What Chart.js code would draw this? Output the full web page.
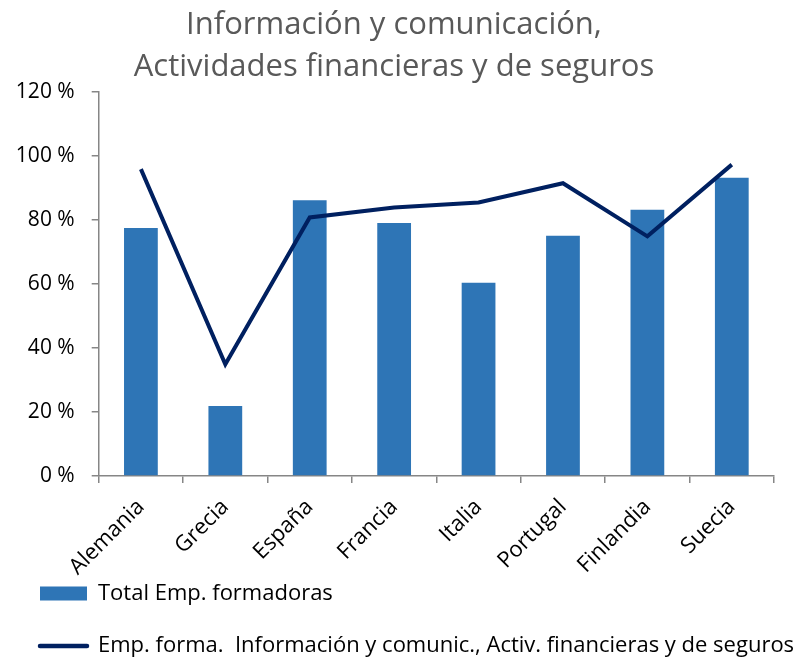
<!doctype html>
<html>
  <head>
    <meta charset="UTF-8">
    <title>Información y comunicación</title>
    <script src="https://cdn.jsdelivr.net/npm/chart.js@4/dist/chart.umd.min.js"></script>
    <style>
      body {
        margin: 0;
        background: #fff;
      }
      #wrap {
        width: 797px;
        height: 659px;
      }
    </style>
  </head>
  <body>
    <div id="wrap">
      <canvas id="chart" width="797" height="659"></canvas>
    </div>
    <script>
      // datos
      var paises = ['Alemania', 'Grecia', 'España', 'Francia', 'Italia', 'Portugal', 'Finlandia', 'Suecia']
      var totalFormadoras = [77.5, 21.9, 86.2, 79.1, 60.4, 75.1, 83.2, 93.2]
      var infoFinancieras = [95.9, 34.9, 80.8, 83.9, 85.5, 91.5, 74.9, 97.3]
      var yTicks = [0, 20, 40, 60, 80, 100, 120]
      var tituloLineas = ['Información y comunicación,', 'Actividades financieras y de seguros']
      var etiquetaBarras = 'Total Emp. formadoras'
      var etiquetaLinea = 'Emp. forma.  Información y comunic., Activ. financieras y de seguros'

      var fuente = "'Open Sans', sans-serif"
      var azul = 'rgb(46, 117, 182)'
      var marino = 'rgb(0, 32, 96)'
      var gris = '#868686'

      var ctx = document.getElementById('chart').getContext('2d')

      // el titulo va centrado un poco a la izquierda del centro del lienzo
      var centrarTitulo = {
        id: 'centrarTitulo',
        afterLayout: function(chart) {
          if (chart.titleBlock) {
            chart.titleBlock.left = -9
            chart.titleBlock.right = 797
          }
        }
      }

      var myChart = new Chart(ctx, {
        type: 'bar',
        data: {
          labels: paises,
          datasets: [
            {
              type: 'bar',
              label: etiquetaBarras,
              data: totalFormadoras,
              backgroundColor: azul,
              barPercentage: 0.4,
              categoryPercentage: 1.0,
              order: 2
            },
            {
              type: 'line',
              label: etiquetaLinea,
              data: infoFinancieras,
              borderColor: marino,
              backgroundColor: marino,
              borderWidth: 4,
              pointRadius: 0,
              tension: 0,
              fill: false,
              order: 1
            }
          ]
        },
        plugins: [centrarTitulo],
        options: {
          responsive: false,
          animation: false,
          layout: {
            padding: { left: 9.5, right: 0, top: 0, bottom: -8 }
          },
          plugins: {
            tooltip: { enabled: false },
            title: {
              display: true,
              text: tituloLineas,
              color: '#595959',
              font: { family: fuente, size: 31, weight: 'normal', lineHeight: 42 / 31 },
              padding: { top: 4.2, bottom: 3.8 }
            },
            legend: {
              position: 'bottom',
              align: 'start',
              labels: {
                usePointStyle: true,
                pointStyleWidth: 47,
                boxWidth: 47,
                boxHeight: 14,
                padding: 30.5,
                color: '#000',
                font: { family: fuente, size: 22 },
                generateLabels: function(chart) {
                  return [
                    {
                      text: etiquetaBarras,
                      fillStyle: azul,
                      strokeStyle: azul,
                      lineWidth: 0,
                      pointStyle: 'rect',
                      datasetIndex: 0
                    },
                    {
                      text: etiquetaLinea,
                      fillStyle: marino,
                      strokeStyle: marino,
                      lineWidth: 4.5,
                      lineCap: 'round',
                      pointStyle: 'line',
                      datasetIndex: 1
                    }
                  ]
                }
              }
            }
          },
          scales: {
            x: {
              offset: true,
              afterFit: function(scale) {
                scale.height = 76
                // las etiquetas giradas salen de la caja del eje, no recortar
                scale._computeLabelArea = function() { return undefined }
              },
              grid: {
                display: true,
                offset: true,
                drawOnChartArea: false,
                drawTicks: true,
                tickLength: 7,
                color: gris,
                lineWidth: 1.5
              },
              border: { display: true, color: gris, width: 1.5 },
              ticks: {
                minRotation: 45,
                maxRotation: 45,
                padding: 11,
                color: '#000',
                font: { family: fuente, size: 22 }
              }
            },
            y: {
              min: 0,
              max: 120,
              afterFit: function(scale) { scale.width = 89.2 },
              afterBuildTicks: function(scale) {
                scale.ticks = yTicks.map(function(v) { return { value: v } })
              },
              grid: {
                display: true,
                drawOnChartArea: false,
                drawTicks: true,
                tickLength: 7,
                color: gris,
                lineWidth: 1.5
              },
              border: { display: true, color: gris, width: 1.5 },
              ticks: {
                color: '#000',
                padding: 17,
                font: { family: fuente, size: 21 },
                callback: function(v) { return v + ' %' }
              }
            },
            // eje vacio a la derecha: solo reserva el margen del area de dibujo
            margen: {
              position: 'right',
              display: true,
              afterFit: function(scale) { scale.width = 23 },
              grid: { display: false },
              border: { display: false },
              ticks: { display: false }
            }
          }
        }
      })
    </script>
  </body>
</html>
